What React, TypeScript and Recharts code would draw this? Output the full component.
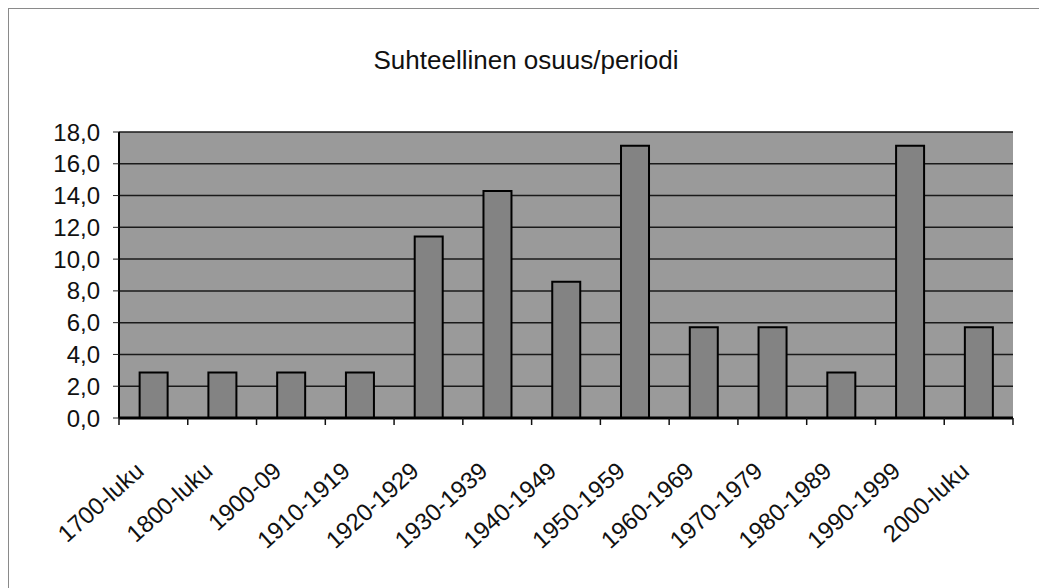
import React from 'react';
import {
  BarChart,
  Bar,
  XAxis,
  YAxis,
  CartesianGrid
} from 'recharts';

const periods = [
  '1700-luku',
  '1800-luku',
  '1900-09',
  '1910-1919',
  '1920-1929',
  '1930-1939',
  '1940-1949',
  '1950-1959',
  '1960-1969',
  '1970-1979',
  '1980-1989',
  '1990-1999',
  '2000-luku'
];

const shares = [2.86, 2.86, 2.86, 2.86, 11.43, 14.29, 8.57, 17.14, 5.71, 5.71, 2.86, 17.14, 5.71];

const yTicks = [0, 2, 4, 6, 8, 10, 12, 14, 16, 18];

const FONT = '"Liberation Sans", Arial, sans-serif';

const data = periods.map((period, i) => ({ period, share: shares[i] }));

const fmt = (v: number) => v.toFixed(1).replace('.', ',');

// Excel-style category tick: label rotated, tick mark on the category boundary
const CategoryTick = (props: any) => {
  const { x, y, payload, index, visibleTicksCount } = props;
  const half = payload?.offset ?? 34.4;
  const isLast = index === (visibleTicksCount ?? periods.length) - 1;
  const ly = y + 47;
  const lx = x - 8;
  return (
    <g>
      <line x1={x - half} y1={y - 8} x2={x - half} y2={y - 1} stroke="#111" strokeWidth={1.5} />
      {isLast && (
        <line x1={x + half} y1={y - 8} x2={x + half} y2={y - 1} stroke="#111" strokeWidth={1.5} />
      )}
      <text
        x={lx}
        y={ly}
        textAnchor="end"
        transform={`rotate(-42, ${lx}, ${ly})`}
        fontSize={24}
        fontFamily={FONT}
        fill="#111"
      >
        {payload.value}
      </text>
    </g>
  );
};

export default function App() {
  return (
    <div
      style={{
        position: 'absolute',
        left: 0,
        top: 0,
        width: 1039,
        height: 588,
        background: '#fff',
        overflow: 'hidden'
      }}
    >
      <div
        style={{
          position: 'absolute',
          left: 8,
          top: 8,
          width: 1100,
          height: 700,
          border: '1.5px solid #8a8a8a'
        }}
      />
      <div
        style={{
          position: 'absolute',
          left: 0,
          width: 1052,
          top: 45,
          textAlign: 'center',
          fontFamily: FONT,
          fontSize: 26,
          color: '#111'
        }}
      >
        Suhteellinen osuus/periodi
      </div>
      <div style={{ position: 'absolute', left: 0, top: 0 }}>
        <BarChart
          width={1039}
          height={588}
          data={data}
          margin={{ top: 132, right: 26, left: 0, bottom: 0 }}
          barCategoryGap="30%"
        >
          <CartesianGrid
            vertical={false}
            stroke="#1a1a1a"
            strokeWidth={1.5}
            fill="#9a9a9a"
            fillOpacity={1}
          />
          <XAxis
            dataKey="period"
            interval={0}
            height={170}
            axisLine={{ stroke: '#000', strokeWidth: 3 }}
            tickLine={false}
            tick={<CategoryTick />}
          />
          <YAxis
            width={119}
            domain={[0, 18]}
            ticks={yTicks}
            interval={0}
            tickFormatter={fmt}
            tickSize={6}
            tickMargin={13}
            axisLine={{ stroke: '#000', strokeWidth: 2 }}
            tickLine={{ stroke: '#222' }}
            tick={{ fontSize: 24, fontFamily: FONT, fill: '#111' }}
          />
          <YAxis
            yAxisId="right"
            orientation="right"
            width={0}
            domain={[0, 18]}
            tick={false}
            tickLine={false}
            axisLine={{ stroke: '#000', strokeWidth: 2 }}
          />
          <Bar
            dataKey="share"
            fill="#838383"
            stroke="#000"
            strokeWidth={2}
            isAnimationActive={false}
          />
        </BarChart>
      </div>
    </div>
  );
}
